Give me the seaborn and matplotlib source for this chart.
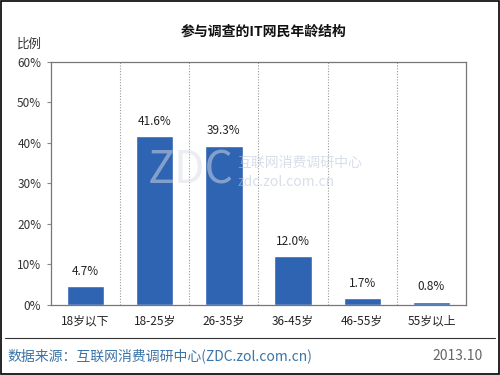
import matplotlib
matplotlib.use("Agg")

import pandas as pd
import matplotlib.pyplot as plt
import seaborn as sns

# data
age_groups = ["18岁以下", "18-25岁", "26-35岁", "36-45岁", "46-55岁", "55岁以上"]
shares = [4.7, 41.6, 39.3, 12.0, 1.7, 0.8]
y_ticks = [0, 10, 20, 30, 40, 50, 60]

sns.set_style("white")
plt.rcParams["font.family"] = ["Noto Sans CJK SC", "DejaVu Sans"]

df = pd.DataFrame({"age": age_groups, "share": shares})

fig = plt.figure(figsize=(5, 3.75), dpi=100)
ax = fig.add_axes([0.102, 0.187, 0.83, 0.648])

sns.barplot(data=df, x="age", y="share", color="#2f64b3", width=0.54,
            saturation=1, ax=ax)

ax.set_ylim(0, 60)
ax.set_xlim(-0.5, len(age_groups) - 0.5)
ax.set_yticks(y_ticks)
ax.set_yticklabels([f"{t}%" for t in y_ticks], fontsize=8.5, color="#333333")
ax.tick_params(axis="x", length=0, labelsize=8.5, labelcolor="#222222", pad=7)
ax.tick_params(axis="y", length=3, width=0.8, color="#888888", left=True,
               direction="out", pad=4)
ax.set_xlabel("")
ax.set_ylabel("")

for side in ["left", "right", "top", "bottom"]:
    ax.spines[side].set_color("#777777")
    ax.spines[side].set_linewidth(0.9)

# dotted separators between categories
for i in range(len(age_groups) - 1):
    ax.axvline(i + 0.5, color="#999999", linestyle=(0, (1, 1.5)),
               linewidth=0.8, zorder=0)

ax.bar_label(ax.containers[0], labels=[f"{v:.1f}%" for v in shares],
             padding=6, fontsize=8.5, color="#222222")

# faint watermark
fig.text(0.295, 0.545, "ZDC", fontsize=32, color="#d8dde6", alpha=0.5,
         ha="left", va="center", zorder=0)
fig.text(0.475, 0.565, "互联网消费调研中心", fontsize=10, color="#b9c4d6",
         alpha=0.55, ha="left", va="center")
fig.text(0.475, 0.515, "zdc.zol.com.cn", fontsize=10, color="#b9c4d6",
         alpha=0.55, ha="left", va="center")

fig.text(0.527, 0.915, "参与调查的IT网民年龄结构", fontsize=10,
         fontweight="bold", ha="center", va="center", color="#111111")
fig.text(0.034, 0.883, "比例", fontsize=9, ha="left", va="center",
         color="#333333")

# footer
fig.add_artist(plt.Line2D([0.01, 0.99], [0.1, 0.1], color="#333333",
                          linewidth=0.8, transform=fig.transFigure))
fig.text(0.014, 0.052, "数据来源：互联网消费调研中心(ZDC.zol.com.cn)",
         fontsize=10, color="#3a74a8", ha="left", va="center")
fig.text(0.966, 0.052, "2013.10", fontsize=10, color="#666666",
         ha="right", va="center")

# outer border
fig.add_artist(plt.Rectangle((0.002, 0.003), 0.996, 0.994, fill=False,
                             edgecolor="black", linewidth=1.2,
                             transform=fig.transFigure))

fig.savefig("out.png", dpi=100)
